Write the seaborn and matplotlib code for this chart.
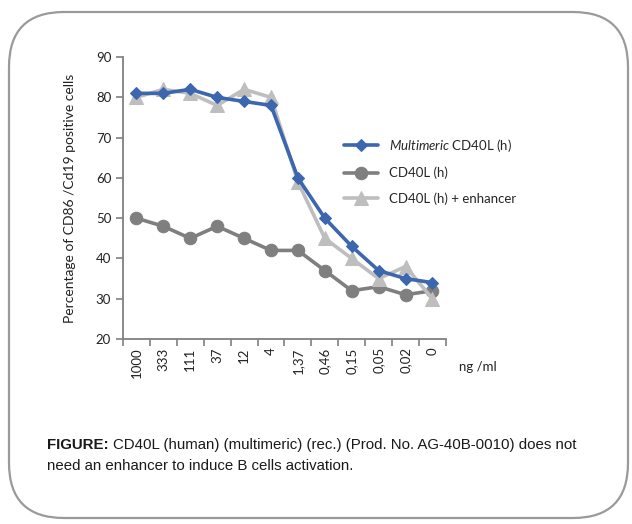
import matplotlib
matplotlib.use("Agg")
import matplotlib.pyplot as plt
import seaborn as sns
import pandas as pd
from matplotlib.patches import FancyBboxPatch
from matplotlib.ticker import FixedLocator

concentrations = ["1000", "333", "111", "37", "12", "4", "1,37", "0,46", "0,15", "0,05", "0,02", "0"]
multimeric = [81, 81, 82, 80, 79, 78, 60, 50, 43, 37, 35, 34]
cd40l = [50, 48, 45, 48, 45, 42, 42, 37, 32, 33, 31, 32]
enhancer = [80, 82, 81, 78, 82, 80, 59, 45, 40, 35, 38, 30]
series_names = ["$\\mathit{Multimeric}$ CD40L (h)", "CD40L (h)", "CD40L (h) + enhancer"]
yticks = [20, 30, 40, 50, 60, 70, 80, 90]

sns.set_theme(style="white")
plt.rcParams['font.family'] = ['Lato', 'DejaVu Sans']
plt.rcParams['mathtext.fontset'] = 'custom'
plt.rcParams['mathtext.it'] = 'Lato:italic'
plt.rcParams['mathtext.rm'] = 'Lato'

df = pd.DataFrame({
    "conc": concentrations * 3,
    "value": multimeric + cd40l + enhancer,
    "series": [series_names[0]] * 12 + [series_names[1]] * 12 + [series_names[2]] * 12,
})

fig = plt.figure(figsize=(6.32, 5.24), dpi=100)
ax = fig.add_axes([0.1946, 0.353, 0.511, 0.538])

palette = {series_names[0]: "#3C66AE", series_names[1]: "#7F7F7F", series_names[2]: "#BEBEBE"}
markers = {series_names[0]: "D", series_names[1]: "o", series_names[2]: "^"}
sizes = {series_names[0]: 6, series_names[1]: 9, series_names[2]: 10}

for name in [series_names[1], series_names[2], series_names[0]]:
    sub = df[df["series"] == name]
    sns.lineplot(data=sub, x="conc", y="value", ax=ax, color=palette[name],
                 marker=markers[name], markersize=sizes[name], markeredgecolor=palette[name],
                 linewidth=2.6, label=name, sort=False)

ax.set_ylim(20, 90)
ax.set_yticks(yticks)
ax.set_xlim(-0.5, len(concentrations) - 0.5)
ax.set_xticks(range(len(concentrations)))
ax.set_xticklabels(concentrations, rotation=90)
ax.xaxis.set_minor_locator(FixedLocator([i - 0.5 for i in range(len(concentrations) + 1)]))
ax.tick_params(axis="x", which="major", length=0, pad=6, labelsize=9.5, colors="#222222")
ax.tick_params(axis="x", which="minor", length=5, width=1.2, color="#808080", bottom=True)
ax.tick_params(axis="y", length=5, width=1.2, color="#808080", left=True, labelsize=9.5, colors="#222222")
for s in ["top", "right"]:
    ax.spines[s].set_visible(False)
for s in ["left", "bottom"]:
    ax.spines[s].set_color("#808080")
    ax.spines[s].set_linewidth(1.3)
ax.set_xlabel("")
ax.set_ylabel("Percentage of CD86 /Cd19 positive cells", fontsize=10, color="#222222", labelpad=14)

handles, labels = ax.get_legend_handles_labels()
order = [labels.index(n) for n in series_names]
ax.legend([handles[i] for i in order], [labels[i] for i in order],
          loc="upper left", bbox_to_anchor=(0.525, 0.762), bbox_transform=fig.transFigure,
          frameon=False, fontsize=9.5, handlelength=2.6, labelspacing=1.0, handletextpad=0.85)

fig.text(459 / 632, 1 - 367 / 524, "ng /ml", fontsize=9.5, color="#222222", va="center", ha="left")

border = FancyBboxPatch((9 / 100, 6 / 100), 619 / 100, 506 / 100,
                        boxstyle="round,pad=0,rounding_size=0.55",
                        transform=fig.dpi_scale_trans, fill=False,
                        edgecolor="#9A9A9A", linewidth=1.6)
fig.patches.append(border)

cap_font = ['Liberation Sans']
cap_size = 10.5
t1 = fig.text(47 / 632, 1 - 445 / 524, "FIGURE:", fontsize=cap_size, fontweight="bold",
              family=cap_font, color="#1a1a1a", va="center", ha="left")
t2 = fig.text(0, 1 - 445 / 524,
              "CD40L (human) (multimeric) (rec.) (Prod. No. AG-40B-0010) does not",
              fontsize=cap_size, family=cap_font, color="#1a1a1a", va="center", ha="left")
t3 = fig.text(47 / 632, 1 - 466 / 524, "need an enhancer to induce B cells activation.",
              fontsize=cap_size, family=cap_font, color="#1a1a1a", va="center", ha="left")
fig.canvas.draw()
r = fig.canvas.get_renderer()
total = t1.get_window_extent(r).width + 4 + t2.get_window_extent(r).width
scale = 531 / total
for t in (t1, t2, t3):
    t.set_fontsize(cap_size * scale)
fig.canvas.draw()
bb = t1.get_window_extent(r)
t2.set_x((bb.x1 + 4) / 632)

fig.savefig("out.png", dpi=100)
